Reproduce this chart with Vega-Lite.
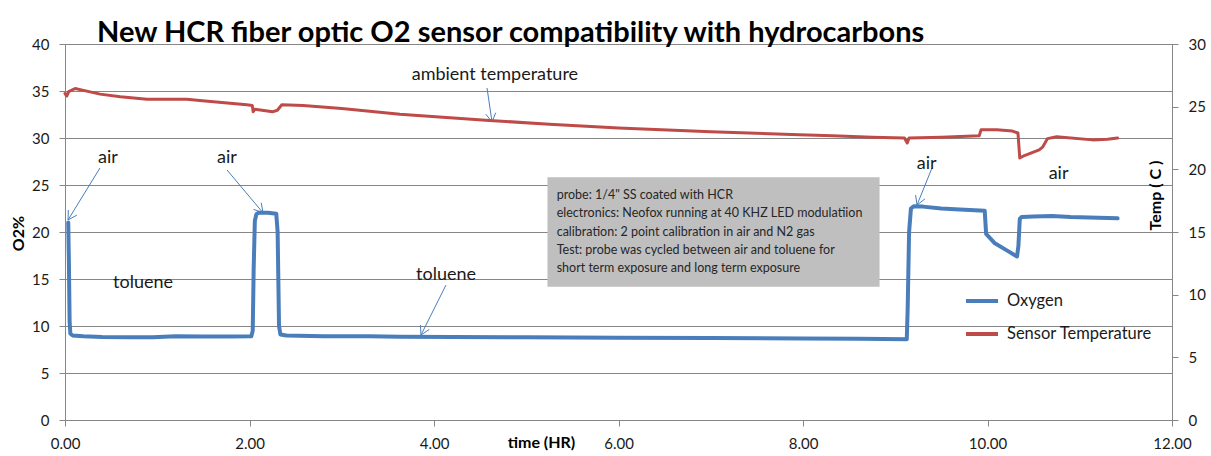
{
  "$schema": "https://vega.github.io/schema/vega-lite/v6.json",
  "width": 1107,
  "height": 376,
  "autosize": {"type": "none"},
  "padding": {"left": 65, "top": 44, "right": 39, "bottom": 36},
  "background": "white",
  "title": {
    "text": "New HCR fiber optic O2 sensor compatibility with hydrocarbons",
    "anchor": "start",
    "frame": "group",
    "font": "Lato",
    "fontSize": 29,
    "fontWeight": "bold",
    "color": "#000000",
    "baseline": "alphabetic",
    "offset": 0,
    "dx": 32,
    "dy": 34
  },
  "config": {
    "font": "Lato",
    "view": {"stroke": "#868686", "strokeWidth": 1},
    "axis": {
      "labelFont": "Lato",
      "labelFontSize": 15,
      "labelColor": "#1a1a1a",
      "labelFlush": false,
      "titleFont": "Lato",
      "titleFontSize": 16,
      "titleFontWeight": "bold",
      "titleColor": "#000000",
      "domainColor": "#868686",
      "tickColor": "#868686",
      "gridColor": "#868686",
      "gridOpacity": 1,
      "tickSize": 6,
      "labelPadding": 10
    }
  },
  "datasets": {
    "oxygen": [
      {"t": 0.035, "o2": 21.0, "series": "Oxygen"},
      {"t": 0.042, "o2": 17.0, "series": "Oxygen"},
      {"t": 0.05, "o2": 10.5, "series": "Oxygen"},
      {"t": 0.058, "o2": 9.2, "series": "Oxygen"},
      {"t": 0.08, "o2": 9.0, "series": "Oxygen"},
      {"t": 0.2, "o2": 8.9, "series": "Oxygen"},
      {"t": 0.4, "o2": 8.82, "series": "Oxygen"},
      {"t": 0.7, "o2": 8.8, "series": "Oxygen"},
      {"t": 0.95, "o2": 8.8, "series": "Oxygen"},
      {"t": 1.2, "o2": 8.92, "series": "Oxygen"},
      {"t": 1.5, "o2": 8.88, "series": "Oxygen"},
      {"t": 1.8, "o2": 8.88, "series": "Oxygen"},
      {"t": 2.02, "o2": 8.9, "series": "Oxygen"},
      {"t": 2.035, "o2": 9.5, "series": "Oxygen"},
      {"t": 2.045, "o2": 16.0, "series": "Oxygen"},
      {"t": 2.058, "o2": 21.2, "series": "Oxygen"},
      {"t": 2.075, "o2": 21.9, "series": "Oxygen"},
      {"t": 2.1, "o2": 22.05, "series": "Oxygen"},
      {"t": 2.2, "o2": 22.05, "series": "Oxygen"},
      {"t": 2.29, "o2": 21.95, "series": "Oxygen"},
      {"t": 2.305, "o2": 20.0, "series": "Oxygen"},
      {"t": 2.32, "o2": 10.0, "series": "Oxygen"},
      {"t": 2.335, "o2": 9.1, "series": "Oxygen"},
      {"t": 2.4, "o2": 8.98, "series": "Oxygen"},
      {"t": 2.8, "o2": 8.92, "series": "Oxygen"},
      {"t": 3.3, "o2": 8.9, "series": "Oxygen"},
      {"t": 3.63, "o2": 8.85, "series": "Oxygen"},
      {"t": 4.2, "o2": 8.83, "series": "Oxygen"},
      {"t": 5.0, "o2": 8.8, "series": "Oxygen"},
      {"t": 6.0, "o2": 8.75, "series": "Oxygen"},
      {"t": 7.0, "o2": 8.72, "series": "Oxygen"},
      {"t": 8.0, "o2": 8.67, "series": "Oxygen"},
      {"t": 8.6, "o2": 8.65, "series": "Oxygen"},
      {"t": 9.125, "o2": 8.6, "series": "Oxygen"},
      {"t": 9.135, "o2": 12.0, "series": "Oxygen"},
      {"t": 9.15, "o2": 20.0, "series": "Oxygen"},
      {"t": 9.17, "o2": 22.5, "series": "Oxygen"},
      {"t": 9.2, "o2": 22.75, "series": "Oxygen"},
      {"t": 9.3, "o2": 22.7, "series": "Oxygen"},
      {"t": 9.5, "o2": 22.5, "series": "Oxygen"},
      {"t": 9.7, "o2": 22.4, "series": "Oxygen"},
      {"t": 9.97, "o2": 22.25, "series": "Oxygen"},
      {"t": 9.985, "o2": 19.8, "series": "Oxygen"},
      {"t": 10.08, "o2": 18.8, "series": "Oxygen"},
      {"t": 10.2, "o2": 18.1, "series": "Oxygen"},
      {"t": 10.32, "o2": 17.4, "series": "Oxygen"},
      {"t": 10.335, "o2": 18.5, "series": "Oxygen"},
      {"t": 10.35, "o2": 21.4, "series": "Oxygen"},
      {"t": 10.37, "o2": 21.6, "series": "Oxygen"},
      {"t": 10.5, "o2": 21.65, "series": "Oxygen"},
      {"t": 10.7, "o2": 21.7, "series": "Oxygen"},
      {"t": 10.9, "o2": 21.6, "series": "Oxygen"},
      {"t": 11.1, "o2": 21.55, "series": "Oxygen"},
      {"t": 11.41, "o2": 21.45, "series": "Oxygen"}
    ],
    "temp": [
      {"t": 0.0, "temp": 26.05, "series": "Sensor Temperature"},
      {"t": 0.02, "temp": 25.85, "series": "Sensor Temperature"},
      {"t": 0.04, "temp": 26.2, "series": "Sensor Temperature"},
      {"t": 0.11, "temp": 26.45, "series": "Sensor Temperature"},
      {"t": 0.2, "temp": 26.3, "series": "Sensor Temperature"},
      {"t": 0.38, "temp": 26.0, "series": "Sensor Temperature"},
      {"t": 0.6, "temp": 25.8, "series": "Sensor Temperature"},
      {"t": 0.89, "temp": 25.6, "series": "Sensor Temperature"},
      {"t": 1.32, "temp": 25.6, "series": "Sensor Temperature"},
      {"t": 1.46, "temp": 25.5, "series": "Sensor Temperature"},
      {"t": 1.97, "temp": 25.15, "series": "Sensor Temperature"},
      {"t": 2.03, "temp": 25.1, "series": "Sensor Temperature"},
      {"t": 2.04, "temp": 24.6, "series": "Sensor Temperature"},
      {"t": 2.06, "temp": 24.8, "series": "Sensor Temperature"},
      {"t": 2.25, "temp": 24.6, "series": "Sensor Temperature"},
      {"t": 2.3, "temp": 24.7, "series": "Sensor Temperature"},
      {"t": 2.35, "temp": 25.15, "series": "Sensor Temperature"},
      {"t": 2.58, "temp": 25.1, "series": "Sensor Temperature"},
      {"t": 3.0, "temp": 24.85, "series": "Sensor Temperature"},
      {"t": 3.63, "temp": 24.4, "series": "Sensor Temperature"},
      {"t": 4.6, "temp": 23.9, "series": "Sensor Temperature"},
      {"t": 5.25, "temp": 23.6, "series": "Sensor Temperature"},
      {"t": 6.0, "temp": 23.3, "series": "Sensor Temperature"},
      {"t": 7.0, "temp": 23.0, "series": "Sensor Temperature"},
      {"t": 7.96, "temp": 22.75, "series": "Sensor Temperature"},
      {"t": 8.32, "temp": 22.67, "series": "Sensor Temperature"},
      {"t": 8.75, "temp": 22.55, "series": "Sensor Temperature"},
      {"t": 9.1, "temp": 22.5, "series": "Sensor Temperature"},
      {"t": 9.13, "temp": 22.1, "series": "Sensor Temperature"},
      {"t": 9.15, "temp": 22.5, "series": "Sensor Temperature"},
      {"t": 9.5, "temp": 22.55, "series": "Sensor Temperature"},
      {"t": 9.91, "temp": 22.67, "series": "Sensor Temperature"},
      {"t": 9.93, "temp": 23.15, "series": "Sensor Temperature"},
      {"t": 10.1, "temp": 23.15, "series": "Sensor Temperature"},
      {"t": 10.27, "temp": 23.05, "series": "Sensor Temperature"},
      {"t": 10.33, "temp": 22.9, "series": "Sensor Temperature"},
      {"t": 10.35, "temp": 20.9, "series": "Sensor Temperature"},
      {"t": 10.4, "temp": 21.1, "series": "Sensor Temperature"},
      {"t": 10.56, "temp": 21.55, "series": "Sensor Temperature"},
      {"t": 10.6, "temp": 21.8, "series": "Sensor Temperature"},
      {"t": 10.65, "temp": 22.45, "series": "Sensor Temperature"},
      {"t": 10.75, "temp": 22.6, "series": "Sensor Temperature"},
      {"t": 11.14, "temp": 22.35, "series": "Sensor Temperature"},
      {"t": 11.3, "temp": 22.4, "series": "Sensor Temperature"},
      {"t": 11.41, "temp": 22.5, "series": "Sensor Temperature"}
    ],
    "notes": [
      {"t": 0.466, "o2": 27.87, "label": "air"},
      {"t": 1.756, "o2": 27.87, "label": "air"},
      {"t": 0.846, "o2": 14.57, "label": "toluene"},
      {"t": 4.13, "o2": 15.43, "label": "toluene"},
      {"t": 4.66, "o2": 36.7, "label": "ambient temperature"},
      {"t": 9.34, "o2": 27.23, "label": "air"},
      {"t": 10.77, "o2": 26.17, "label": "air"}
    ],
    "arrows": [
      {"x1": 0.379, "y1": 26.81, "x2": 0.033, "y2": 21.28},
      {"x1": 0.033, "y1": 21.28, "x2": 0.128, "y2": 21.79},
      {"x1": 0.033, "y1": 21.28, "x2": 0.036, "y2": 22.34},
      {"x1": 1.756, "y1": 26.6, "x2": 2.146, "y2": 22.05},
      {"x1": 2.146, "y1": 22.05, "x2": 2.127, "y2": 23.11},
      {"x1": 2.146, "y1": 22.05, "x2": 2.044, "y2": 22.41},
      {"x1": 4.13, "y1": 14.36, "x2": 3.859, "y2": 9.04},
      {"x1": 3.859, "y1": 9.04, "x2": 3.949, "y2": 9.63},
      {"x1": 3.859, "y1": 9.04, "x2": 3.853, "y2": 10.11},
      {"x1": 4.575, "y1": 35.32, "x2": 4.629, "y2": 31.7},
      {"x1": 4.629, "y1": 31.7, "x2": 4.669, "y2": 32.69},
      {"x1": 4.629, "y1": 31.7, "x2": 4.562, "y2": 32.53},
      {"x1": 9.398, "y1": 26.81, "x2": 9.236, "y2": 22.87},
      {"x1": 9.236, "y1": 22.87, "x2": 9.322, "y2": 23.52},
      {"x1": 9.236, "y1": 22.87, "x2": 9.221, "y2": 23.93}
    ],
    "box": [
      {"x1": 5.23, "x2": 8.83, "y1": 14.18, "y2": 25.82}
    ],
    "boxtext": [
      {"t": 5.33, "o2": 23.94, "line": "probe: 1/4\" SS coated with HCR"},
      {"t": 5.33, "o2": 21.99, "line": "electronics: Neofox running at 40 KHZ LED modulatiion"},
      {"t": 5.33, "o2": 20.03, "line": "calibration: 2 point calibration in air and N2 gas"},
      {"t": 5.33, "o2": 18.08, "line": "Test: probe was cycled between air and toluene for"},
      {"t": 5.33, "o2": 16.17, "line": "short term exposure and long term exposure"}
    ]
  },
  "layer": [
    {
      "layer": [
        {
          "data": {"name": "box"},
          "mark": {"type": "rect", "color": "#BFBFBF", "stroke": null},
          "encoding": {
            "x": {"field": "x1", "type": "quantitative", "scale": {"domain": [0, 12], "nice": false}, "title": "time (HR)"},
            "x2": {"field": "x2"},
            "y": {"field": "y1", "type": "quantitative", "scale": {"domain": [0, 40], "nice": false}, "title": "O2%"},
            "y2": {"field": "y2"}
          }
        },
        {
          "data": {"name": "boxtext"},
          "mark": {"type": "text", "align": "left", "baseline": "middle", "font": "Lato", "fontSize": 12.5, "color": "#262626"},
          "encoding": {
            "x": {"field": "t", "type": "quantitative", "scale": {"domain": [0, 12], "nice": false}, "title": "time (HR)"},
            "y": {"field": "o2", "type": "quantitative", "scale": {"domain": [0, 40], "nice": false}, "title": "O2%"},
            "text": {"field": "line"}
          }
        },
        {
          "data": {"name": "oxygen"},
          "mark": {"type": "line", "strokeWidth": 4, "strokeJoin": "round", "strokeCap": "round"},
          "encoding": {
            "x": {
              "field": "t", "type": "quantitative", "scale": {"domain": [0, 12], "nice": false}, "title": "time (HR)",
              "axis": {
                "values": [0, 2, 4, 6, 8, 10, 12], "format": ".2f", "grid": false,
                "titleX": 476, "titleY": 22, "titleBaseline": "middle", "titleAlign": "center"
              }
            },
            "y": {
              "field": "o2", "type": "quantitative", "scale": {"domain": [0, 40], "nice": false}, "title": "O2%",
              "axis": {
                "values": [0, 5, 10, 15, 20, 25, 30, 35, 40], "grid": true,
                "titleX": -47, "titleY": 189, "titleAngle": 270, "titleBaseline": "middle", "titleAlign": "center"
              }
            },
            "color": {
              "field": "series", "type": "nominal",
              "scale": {"domain": ["Oxygen", "Sensor Temperature"], "range": ["#4A7EBB", "#BE4B48"]},
              "legend": {
                "orient": "none", "legendX": 899, "legendY": 239, "title": null,
                "symbolType": "stroke", "symbolSize": 1024, "symbolStrokeWidth": 4,
                "labelFont": "Lato", "labelFontSize": 16.5, "labelColor": "#1a1a1a",
                "rowPadding": 6, "labelOffset": 7, "padding": 0
              }
            }
          }
        },
        {
          "data": {"name": "arrows"},
          "mark": {"type": "rule", "color": "#4A7EBB", "strokeWidth": 1},
          "encoding": {
            "x": {"field": "x1", "type": "quantitative", "scale": {"domain": [0, 12], "nice": false}, "title": "time (HR)"},
            "x2": {"field": "x2"},
            "y": {"field": "y1", "type": "quantitative", "scale": {"domain": [0, 40], "nice": false}, "title": "O2%"},
            "y2": {"field": "y2"}
          }
        },
        {
          "data": {"name": "notes"},
          "mark": {"type": "text", "align": "center", "baseline": "middle", "font": "Lato", "fontSize": 18, "color": "#1a1a1a"},
          "encoding": {
            "x": {"field": "t", "type": "quantitative", "scale": {"domain": [0, 12], "nice": false}, "title": "time (HR)"},
            "y": {"field": "o2", "type": "quantitative", "scale": {"domain": [0, 40], "nice": false}, "title": "O2%"},
            "text": {"field": "label"}
          }
        }
      ]
    },
    {
      "data": {"name": "temp"},
      "mark": {"type": "line", "strokeWidth": 3, "strokeJoin": "round", "strokeCap": "round"},
      "encoding": {
        "x": {"field": "t", "type": "quantitative", "scale": {"domain": [0, 12], "nice": false}, "title": "time (HR)"},
        "y": {
          "field": "temp", "type": "quantitative", "scale": {"domain": [0, 30], "nice": false},
          "axis": {
            "orient": "right", "title": "Temp ( C )", "values": [0, 5, 10, 15, 20, 25, 30], "grid": false,
            "titleX": -17, "titleY": 151, "titleAngle": 270, "titleBaseline": "middle", "titleAlign": "center"
          }
        },
        "color": {"field": "series", "type": "nominal"}
      }
    }
  ],
  "resolve": {"scale": {"y": "independent"}}
}
